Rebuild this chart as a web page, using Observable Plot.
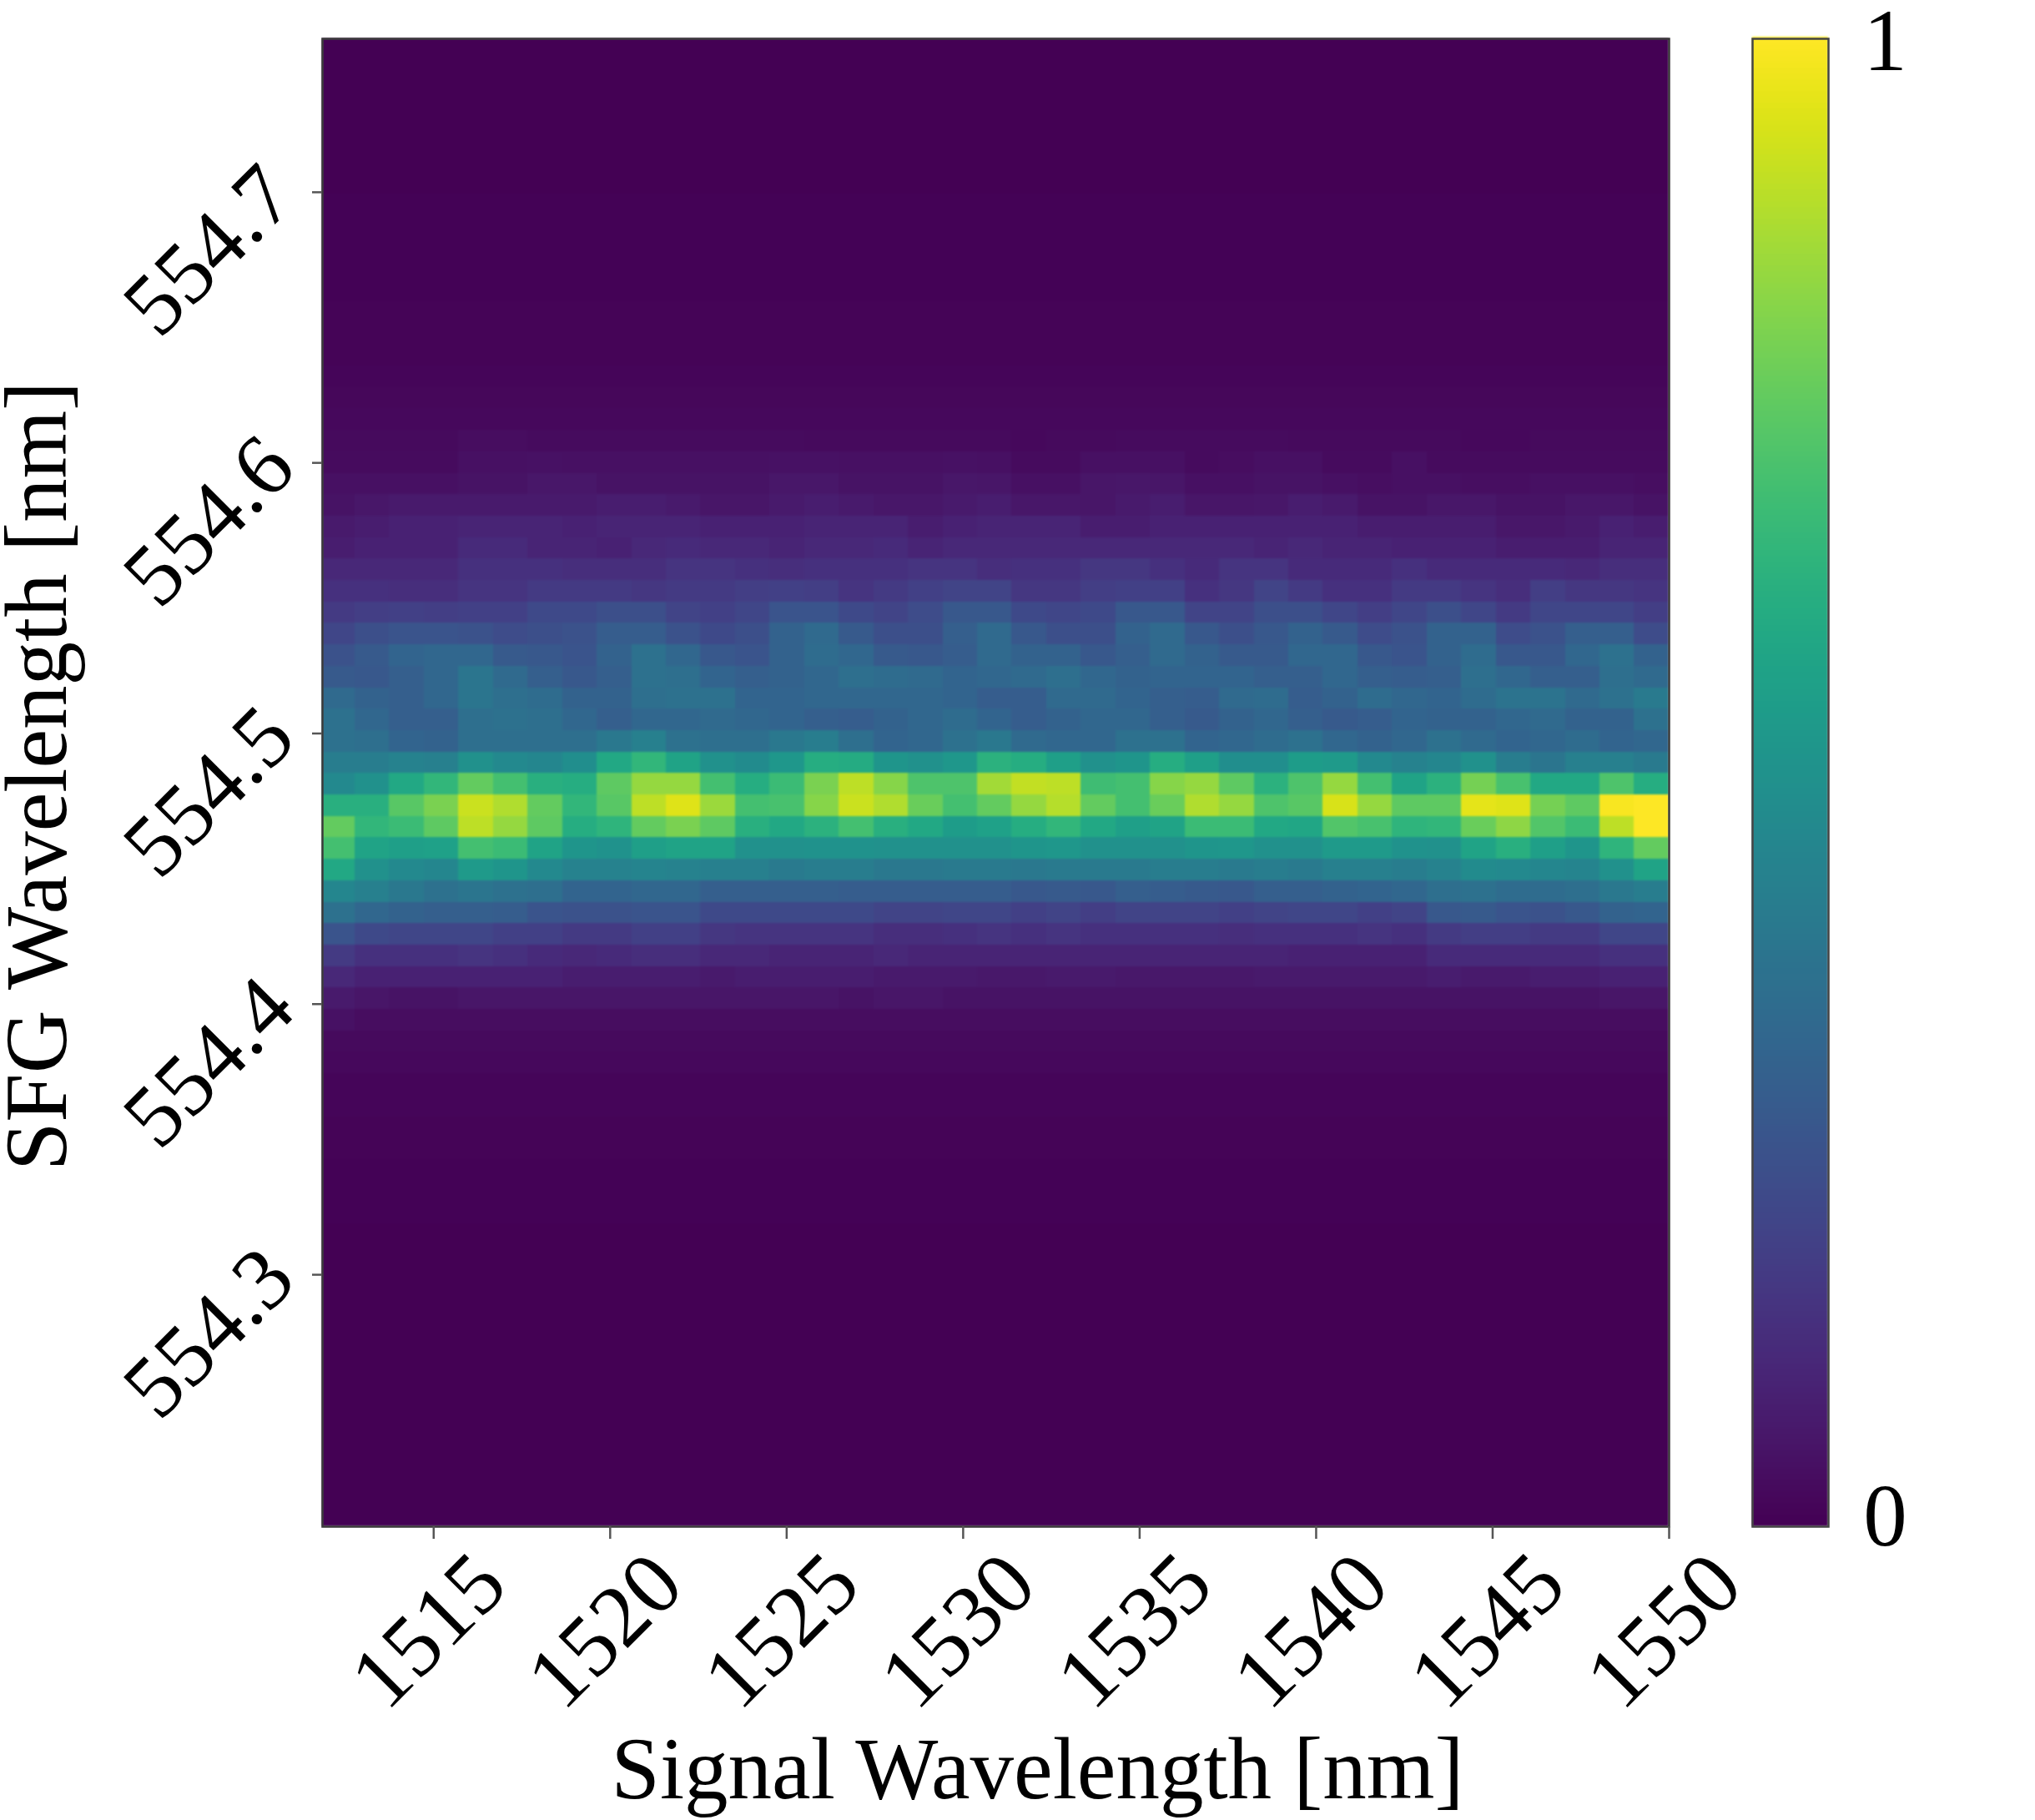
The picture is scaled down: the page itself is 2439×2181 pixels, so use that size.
<!DOCTYPE html>
<html>
<head>
<meta charset="utf-8">
<script src="https://cdn.jsdelivr.net/npm/d3@7"></script>
<script src="https://cdn.jsdelivr.net/npm/@observablehq/plot@0.6"></script>
<style>
html,body{margin:0;padding:0;background:#fff;}
#stage{position:relative;width:2439px;height:2181px;overflow:hidden;}
#stage svg{position:absolute;left:0;top:0;background:transparent;}
g[aria-label="rect"]{filter:blur(1.1px);}
</style>
</head>
<body>
<div id="stage"></div>
<script>
// Axis extents and ticks
const xDomain = [1511.85, 1550];
const yDomain = [554.2069, 554.7567];
const xTicks = [1515, 1520, 1525, 1530, 1535, 1540, 1545, 1550];
const yTicks = [554.3, 554.4, 554.5, 554.6, 554.7];
const colorTicks = [0, 1];
const xLabel = "Signal Wavelength [nm]";
const yLabel = "SFG Wavelength [nm]";

// Grid: 39 columns, 70 rows (first column and first row are cut by the frame)
const nCols = 39;
const colStart = 1512.77, colStep = 0.9797;
const rowStart = 554.7547, rowStep = 0.007925;

// Intensity in percent of maximum. Rows are numbered from the top of the plot.
// Rows 0-18 and 47-69 look uniform across the picture.
const topRowLevels = [0.3,0.3,0.3,0.3,0.3,0.3,0.3,0.3,0.4,0.4,0.5,0.6,0.7,0.8,1,1.1,1.3,1.7,2.2];
const bottomRowLevels = [2.5,2,1.5,1.2,1,0.8,0.6,0.5,0.4,0.3,0.2,0.2,0.1,0.1,0,0,0,0,0,0,0,0,0];

const row19 = [2.5,2.5,2.5,2.5,3.5,3.5,3,3,3,3,3,3,3,3,2.5,2.5,2.5,2.5,2.5,2.5,2.2,2.5,2.5,3,3,3,3,3,2.5,2.5,2.5,2.5,2.5,2.2,2.2,2.5,2.5,2.5,2.5];
const row20 = [3,3,3,3,4,4,4.5,4,4,4,4,4,4,4.5,4.5,4,4,4,4.5,4,3,3,4,4,4,3,3.5,4,4,3,3,4,3,2.8,2.8,3,3,3,3];
const row21 = [4,4,4,4,5,5,6,6,5,5,5,5,5,6,6,5,5,5,6,5.5,4.2,4.2,5.5,6,5.5,4.2,4.2,5,5,4.2,3.8,4.2,4.2,3.8,3.8,4.2,4.2,4.2,3.8];
const row22 = [5,6,7,7,7,7,7,7,8,8,7,5.5,5.5,7,8,7,6,6,7,8,6,6,5.5,7,8,5.5,5.5,6,8,7,5,5,6,6,5,5,6,6,5];
const row23 = [7,8,9,9,10,10,10,9,10,10,10,9,9,9,10,10,10,8,9,10,10,10,8,8,9,9,9,9,9,9,8,8,8,8,6,6,7,9,8];
const row24 = [8,9,9,9,12,12,10,10,9,11,12,11,11,10,11,11,12,10,11,11,11,11,11,11,11,11,11,10,11,10,10,9,9,9,8,8,8,10,10];
const row25 = [11,11,11,11,14,14,14,13,13,13,15,15,14,13,14,14,14,15,15,13,14,14,16,16,14,12,15,15,12,12,12,14,12,12,12,12,11,13,13];
const row26 = [14,14,13,13,15,15,17,17,17,16,17,17,18,19,18,15,17,19,20,20,16,16,18,19,19,14,16,20,17,14,14,17,17,15,13,18,16,16,15];
const row27 = [17,18,19,18,19,19,22,22,24,24,20,19,21,26,26,22,20,23,27,27,22,21,22,27,27,20,20,24,24,21,18,21,24,21,17,21,21,21,18];
const row28 = [21,24,26,26,25,23,24,25,29,29,25,22,24,31,34,28,24,24,30,34,27,24,24,31,34,27,24,27,31,28,23,25,31,31,23,25,30,30,23];
const row29 = [25,28,32,33,33,28,27,26,31,37,33,27,26,31,35,33,28,27,29,34,31,31,27,30,34,31,28,28,33,33,27,26,31,35,27,27,33,37,31];
const row30 = [28,27,30,33,39,34,30,27,30,37,36,32,30,31,33,36,35,34,32,33,34,36,33,31,32,32,32,30,30,33,30,29,30,36,33,30,30,36,34];
const row31 = [34,31,30,33,39,36,35,31,31,36,37,37,32,32,33,33,33,33,32,29,29,34,34,32,30,29,34,35,29,31,35,33,32,35,38,38,34,37,41];
const row32 = [37,33,30,30,36,37,36,33,30,33,33,34,33,32,30,29,31,33,35,32,29,31,33,33,30,28,31,33,30,28,29,32,31,31,33,34,31,31,37];
const row33 = [37,36,32,31,36,36,36,36,40,43,37,36,36,40,42,36,32,33,37,40,34,33,33,37,37,32,33,35,37,33,31,33,37,34,32,33,35,32,33];
const row34 = [42,42,44,43,50,47,46,49,60,66,58,50,48,53,62,61,52,50,53,64,62,56,50,52,62,56,49,49,55,54,47,44,46,50,42,39,43,43,41];
const row35 = [47,50,60,66,76,70,63,62,75,84,84,70,62,68,80,90,82,72,72,86,91,90,69,70,82,84,75,64,72,84,70,58,64,79,71,60,60,72,62];
const row36 = [63,63,74,80,92,88,76,66,74,90,95,85,70,71,82,92,88,77,70,76,84,89,76,70,77,88,84,72,74,94,84,75,75,96,95,79,75,99,100];
const row37 = [76,66,68,75,90,84,75,62,65,76,80,75,63,60,64,70,63,60,55,57,62,66,60,56,58,68,68,60,59,73,71,65,66,77,83,73,68,90,100];
const row38 = [70,58,56,57,70,68,58,52,51,56,58,58,50,50,51,51,50,50,50,50,52,53,50,50,50,52,53,50,50,54,54,51,50,58,63,56,52,65,76];
const row39 = [60,50,47,46,54,52,47,44,44,45,44,43,43,41,42,42,40,40,41,41,40,41,41,41,42,42,41,42,41,43,43,42,44,48,47,46,45,50,58];
const row40 = [46,43,40,37,39,37,36,32,32,33,33,30,30,30,30,29,29,29,29,29,27,28,27,30,29,28,27,30,30,31,32,33,36,37,35,35,36,40,42];
const row41 = [37,33,31,30,30,29,26,25,25,26,26,22,22,22,22,22,20,20,21,21,19,20,18,20,20,20,19,20,21,21,19,20,27,28,26,25,27,31,32];
const row42 = [26,22,21,21,21,19,19,17,17,19,19,16,15,15,15,15,13,13,14,15,14,15,14,14,14,14,13,14,14,14,15,14,17,18,18,17,17,21,21];
const row43 = [17,14,14,14,15,14,12,11,12,13,13,11,11,10,10,10,11,10,10,10,10,10,10,10,10,10,10,10,9,9,9,9,12,12,12,12,12,14,14];
const row44 = [11,9,9,9,9,9,9,8,8,8,8,7,8,8,8,8,7,7,7,6.5,6.5,7,7,6.5,6.5,6.5,6.5,7,7,7,7,7,8,7,7,8,8,9,9];
const row45 = [7,5.5,5,5,5.5,5.5,5.5,5.5,5.5,5.5,5.5,5.5,5.5,5.5,5.5,5,5.5,5.5,5,5,5,5,5,5,5,5,5,5,5,5,5,5,5,5,5,5,5,5.5,5.5];
const row46 = [4.5,3.5,3.5,3.5,3.5,3.5,3.5,3.5,3.5,3.5,3.5,3.5,3.5,3.2,3.2,3.2,3.2,3.2,3.2,3.2,3.2,3.2,3.2,3.2,3.2,3.2,3.2,3.2,3.2,3.2,3.2,3.2,3.2,3.2,3.2,3.2,3.2,3.5,3.5];

const bandRows = [row19,row20,row21,row22,row23,row24,row25,row26,row27,row28,row29,row30,row31,row32,row33,
                  row34,row35,row36,row37,row38,row39,row40,row41,row42,row43,row44,row45,row46];
const uniformRow = level => d3.range(nCols).map(() => level);
const rows = [...topRowLevels.map(uniformRow), ...bandRows, ...bottomRowLevels.map(uniformRow)];

const cells = rows.flatMap((row, r) => row.map((v, c) => ({
  x1: c === 0 ? xDomain[0] : colStart + (c - 1) * colStep,
  x2: c === nCols - 1 ? xDomain[1] : colStart + c * colStep,
  y1: r === 0 ? yDomain[1] : rowStart - (r - 1) * rowStep,
  y2: r === rows.length - 1 ? yDomain[0] : rowStart - r * rowStep,
  v: v / 100
})));

const FONT = "Liberation Serif";
const SIZE = 105;
const colorScale = {type: "linear", scheme: "viridis", domain: [0, 1]};

const main = Plot.plot({
  width: 2439, height: 2181,
  marginLeft: 386, marginRight: 439, marginTop: 46, marginBottom: 352,
  style: {fontFamily: FONT, background: "transparent", overflow: "visible"},
  x: {domain: xDomain},
  y: {domain: yDomain},
  color: colorScale,
  marks: [
    Plot.rect(cells, {x1: "x1", x2: "x2", y1: "y1", y2: "y2", fill: "v", shapeRendering: "crispEdges"}),
    Plot.frame({stroke: "#3a3a3a", strokeWidth: 2.5}),
    Plot.axisX({ticks: xTicks, tickSize: 15, text: null, label: null, stroke: "#555", strokeWidth: 2.5}),
    Plot.axisX({
      ticks: xTicks, tickSize: 0, tickRotate: -45, textAnchor: "middle", tickPadding: 125, dx: -6,
      fontSize: SIZE, label: null, tickFormat: d => String(d), color: "#000"
    }),
    Plot.axisY({ticks: yTicks, tickSize: 12, text: null, label: null, stroke: "#555", strokeWidth: 2.5}),
    Plot.axisY({
      ticks: yTicks, tickSize: 0, tickRotate: -45, textAnchor: "middle", tickPadding: 136, dy: 70,
      fontSize: SIZE, label: null, tickFormat: d => d.toFixed(1), color: "#000"
    }),
    Plot.text([xLabel], {frameAnchor: "bottom", dx: 50, dy: 325, fontSize: SIZE, fill: "#000", text: d => d}),
    Plot.text([yLabel], {frameAnchor: "left", textAnchor: "middle", rotate: -90, dx: -341, dy: -8, fontSize: SIZE, fill: "#000", text: d => d})
  ]
});

// Colour bar: the same viridis scale, drawn as thin rectangles
const barLevels = d3.range(0, 256).map(i => i / 256);
const bar = Plot.plot({
  width: 2439, height: 2181,
  marginLeft: 2100, marginRight: 248, marginTop: 46, marginBottom: 352,
  style: {fontFamily: FONT, background: "transparent", overflow: "visible"},
  x: {domain: [0, 1], axis: null},
  y: {domain: [0, 1], axis: null},
  color: colorScale,
  marks: [
    Plot.rect(barLevels, {x1: 0, x2: 1, y1: d => d, y2: d => d + 1 / 256 + 0.001, fill: d => d, shapeRendering: "crispEdges"}),
    Plot.frame({stroke: "#444", strokeWidth: 2.5}),
    Plot.axisY([colorTicks[1]], {anchor: "right", tickSize: 0, tickPadding: 68, textAnchor: "middle", dy: 4, fontSize: SIZE, label: null, tickFormat: d => String(d), color: "#000"}),
    Plot.axisY([colorTicks[0]], {anchor: "right", tickSize: 0, tickPadding: 68, textAnchor: "middle", dy: -11, fontSize: SIZE, label: null, tickFormat: d => String(d), color: "#000"})
  ]
});

const stage = document.getElementById("stage");
stage.append(main, bar);
</script>
</body>
</html>
